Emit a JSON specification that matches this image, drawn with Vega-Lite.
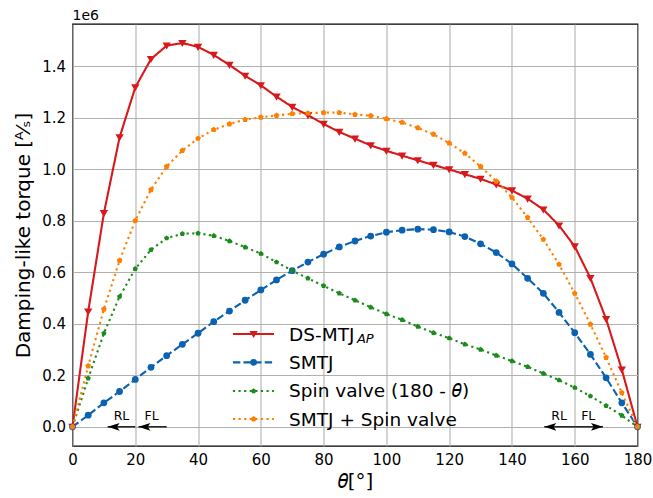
{
  "$schema": "https://vega.github.io/schema/vega-lite/v6.json",
  "width": 565,
  "height": 422,
  "autosize": {"type": "none"},
  "padding": {"left": 72.5, "top": 24, "right": 15.5, "bottom": 52},
  "background": "white",
  "config": {
    "font": "DejaVu Sans",
    "view": {"stroke": "#000", "strokeWidth": 1.3},
    "axis": {
      "grid": true, "gridColor": "#b0b0b0", "gridWidth": 1.1,
      "ticks": false, "tickSize": 0, "domain": false, "labelFlush": false,
      "labelFont": "DejaVu Sans", "labelFontSize": 15, "labelColor": "#000",
      "titleFont": "DejaVu Sans", "titleFontSize": 20, "titleFontWeight": "normal", "titleColor": "#000"
    },
    "axisX": {"labelPadding": 6, "titlePadding": 4},
    "axisY": {"labelPadding": 7, "titlePadding": 8}
  },
  "datasets": {
    "curves": [
      {"theta": 0, "value": 0, "series": "DS-MTJ"},
      {"theta": 5, "value": 0.447, "series": "DS-MTJ"},
      {"theta": 10, "value": 0.829, "series": "DS-MTJ"},
      {"theta": 15, "value": 1.123, "series": "DS-MTJ"},
      {"theta": 20, "value": 1.317, "series": "DS-MTJ"},
      {"theta": 25, "value": 1.427, "series": "DS-MTJ"},
      {"theta": 30, "value": 1.479, "series": "DS-MTJ"},
      {"theta": 35, "value": 1.489, "series": "DS-MTJ"},
      {"theta": 40, "value": 1.474, "series": "DS-MTJ"},
      {"theta": 45, "value": 1.443, "series": "DS-MTJ"},
      {"theta": 50, "value": 1.404, "series": "DS-MTJ"},
      {"theta": 55, "value": 1.362, "series": "DS-MTJ"},
      {"theta": 60, "value": 1.325, "series": "DS-MTJ"},
      {"theta": 65, "value": 1.281, "series": "DS-MTJ"},
      {"theta": 70, "value": 1.241, "series": "DS-MTJ"},
      {"theta": 75, "value": 1.209, "series": "DS-MTJ"},
      {"theta": 80, "value": 1.175, "series": "DS-MTJ"},
      {"theta": 85, "value": 1.144, "series": "DS-MTJ"},
      {"theta": 90, "value": 1.118, "series": "DS-MTJ"},
      {"theta": 95, "value": 1.092, "series": "DS-MTJ"},
      {"theta": 100, "value": 1.071, "series": "DS-MTJ"},
      {"theta": 105, "value": 1.052, "series": "DS-MTJ"},
      {"theta": 110, "value": 1.034, "series": "DS-MTJ"},
      {"theta": 115, "value": 1.016, "series": "DS-MTJ"},
      {"theta": 120, "value": 0.999, "series": "DS-MTJ"},
      {"theta": 125, "value": 0.98, "series": "DS-MTJ"},
      {"theta": 130, "value": 0.962, "series": "DS-MTJ"},
      {"theta": 135, "value": 0.94, "series": "DS-MTJ"},
      {"theta": 140, "value": 0.917, "series": "DS-MTJ"},
      {"theta": 145, "value": 0.885, "series": "DS-MTJ"},
      {"theta": 150, "value": 0.843, "series": "DS-MTJ"},
      {"theta": 155, "value": 0.781, "series": "DS-MTJ"},
      {"theta": 160, "value": 0.7, "series": "DS-MTJ"},
      {"theta": 165, "value": 0.577, "series": "DS-MTJ"},
      {"theta": 170, "value": 0.418, "series": "DS-MTJ"},
      {"theta": 175, "value": 0.222, "series": "DS-MTJ"},
      {"theta": 180, "value": 0, "series": "DS-MTJ"},
      {"theta": 0, "value": 0, "series": "SMTJ"},
      {"theta": 5, "value": 0.045, "series": "SMTJ"},
      {"theta": 10, "value": 0.093, "series": "SMTJ"},
      {"theta": 15, "value": 0.137, "series": "SMTJ"},
      {"theta": 20, "value": 0.184, "series": "SMTJ"},
      {"theta": 25, "value": 0.231, "series": "SMTJ"},
      {"theta": 30, "value": 0.276, "series": "SMTJ"},
      {"theta": 35, "value": 0.32, "series": "SMTJ"},
      {"theta": 40, "value": 0.363, "series": "SMTJ"},
      {"theta": 45, "value": 0.408, "series": "SMTJ"},
      {"theta": 50, "value": 0.449, "series": "SMTJ"},
      {"theta": 55, "value": 0.491, "series": "SMTJ"},
      {"theta": 60, "value": 0.531, "series": "SMTJ"},
      {"theta": 65, "value": 0.57, "series": "SMTJ"},
      {"theta": 70, "value": 0.606, "series": "SMTJ"},
      {"theta": 75, "value": 0.639, "series": "SMTJ"},
      {"theta": 80, "value": 0.67, "series": "SMTJ"},
      {"theta": 85, "value": 0.698, "series": "SMTJ"},
      {"theta": 90, "value": 0.721, "series": "SMTJ"},
      {"theta": 95, "value": 0.74, "series": "SMTJ"},
      {"theta": 100, "value": 0.755, "series": "SMTJ"},
      {"theta": 105, "value": 0.763, "series": "SMTJ"},
      {"theta": 110, "value": 0.767, "series": "SMTJ"},
      {"theta": 115, "value": 0.765, "series": "SMTJ"},
      {"theta": 120, "value": 0.756, "series": "SMTJ"},
      {"theta": 125, "value": 0.738, "series": "SMTJ"},
      {"theta": 130, "value": 0.71, "series": "SMTJ"},
      {"theta": 135, "value": 0.676, "series": "SMTJ"},
      {"theta": 140, "value": 0.632, "series": "SMTJ"},
      {"theta": 145, "value": 0.576, "series": "SMTJ"},
      {"theta": 150, "value": 0.518, "series": "SMTJ"},
      {"theta": 155, "value": 0.444, "series": "SMTJ"},
      {"theta": 160, "value": 0.365, "series": "SMTJ"},
      {"theta": 165, "value": 0.281, "series": "SMTJ"},
      {"theta": 170, "value": 0.19, "series": "SMTJ"},
      {"theta": 175, "value": 0.093, "series": "SMTJ"},
      {"theta": 180, "value": 0, "series": "SMTJ"},
      {"theta": 0, "value": 0, "series": "Spin valve"},
      {"theta": 5, "value": 0.188, "series": "Spin valve"},
      {"theta": 10, "value": 0.363, "series": "Spin valve"},
      {"theta": 15, "value": 0.505, "series": "Spin valve"},
      {"theta": 20, "value": 0.613, "series": "Spin valve"},
      {"theta": 25, "value": 0.687, "series": "Spin valve"},
      {"theta": 30, "value": 0.732, "series": "Spin valve"},
      {"theta": 35, "value": 0.749, "series": "Spin valve"},
      {"theta": 40, "value": 0.751, "series": "Spin valve"},
      {"theta": 45, "value": 0.741, "series": "Spin valve"},
      {"theta": 50, "value": 0.721, "series": "Spin valve"},
      {"theta": 55, "value": 0.697, "series": "Spin valve"},
      {"theta": 60, "value": 0.672, "series": "Spin valve"},
      {"theta": 65, "value": 0.639, "series": "Spin valve"},
      {"theta": 70, "value": 0.606, "series": "Spin valve"},
      {"theta": 75, "value": 0.576, "series": "Spin valve"},
      {"theta": 80, "value": 0.547, "series": "Spin valve"},
      {"theta": 85, "value": 0.518, "series": "Spin valve"},
      {"theta": 90, "value": 0.491, "series": "Spin valve"},
      {"theta": 95, "value": 0.464, "series": "Spin valve"},
      {"theta": 100, "value": 0.438, "series": "Spin valve"},
      {"theta": 105, "value": 0.415, "series": "Spin valve"},
      {"theta": 110, "value": 0.389, "series": "Spin valve"},
      {"theta": 115, "value": 0.365, "series": "Spin valve"},
      {"theta": 120, "value": 0.344, "series": "Spin valve"},
      {"theta": 125, "value": 0.32, "series": "Spin valve"},
      {"theta": 130, "value": 0.3, "series": "Spin valve"},
      {"theta": 135, "value": 0.277, "series": "Spin valve"},
      {"theta": 140, "value": 0.255, "series": "Spin valve"},
      {"theta": 145, "value": 0.233, "series": "Spin valve"},
      {"theta": 150, "value": 0.207, "series": "Spin valve"},
      {"theta": 155, "value": 0.181, "series": "Spin valve"},
      {"theta": 160, "value": 0.152, "series": "Spin valve"},
      {"theta": 165, "value": 0.119, "series": "Spin valve"},
      {"theta": 170, "value": 0.082, "series": "Spin valve"},
      {"theta": 175, "value": 0.044, "series": "Spin valve"},
      {"theta": 180, "value": 0, "series": "Spin valve"},
      {"theta": 0, "value": 0, "series": "SMTJ + Spin valve"},
      {"theta": 5, "value": 0.236, "series": "SMTJ + Spin valve"},
      {"theta": 10, "value": 0.456, "series": "SMTJ + Spin valve"},
      {"theta": 15, "value": 0.645, "series": "SMTJ + Spin valve"},
      {"theta": 20, "value": 0.8, "series": "SMTJ + Spin valve"},
      {"theta": 25, "value": 0.92, "series": "SMTJ + Spin valve"},
      {"theta": 30, "value": 1.01, "series": "SMTJ + Spin valve"},
      {"theta": 35, "value": 1.072, "series": "SMTJ + Spin valve"},
      {"theta": 40, "value": 1.119, "series": "SMTJ + Spin valve"},
      {"theta": 45, "value": 1.153, "series": "SMTJ + Spin valve"},
      {"theta": 50, "value": 1.175, "series": "SMTJ + Spin valve"},
      {"theta": 55, "value": 1.192, "series": "SMTJ + Spin valve"},
      {"theta": 60, "value": 1.201, "series": "SMTJ + Spin valve"},
      {"theta": 65, "value": 1.208, "series": "SMTJ + Spin valve"},
      {"theta": 70, "value": 1.215, "series": "SMTJ + Spin valve"},
      {"theta": 75, "value": 1.217, "series": "SMTJ + Spin valve"},
      {"theta": 80, "value": 1.219, "series": "SMTJ + Spin valve"},
      {"theta": 85, "value": 1.219, "series": "SMTJ + Spin valve"},
      {"theta": 90, "value": 1.212, "series": "SMTJ + Spin valve"},
      {"theta": 95, "value": 1.207, "series": "SMTJ + Spin valve"},
      {"theta": 100, "value": 1.195, "series": "SMTJ + Spin valve"},
      {"theta": 105, "value": 1.181, "series": "SMTJ + Spin valve"},
      {"theta": 110, "value": 1.16, "series": "SMTJ + Spin valve"},
      {"theta": 115, "value": 1.135, "series": "SMTJ + Spin valve"},
      {"theta": 120, "value": 1.101, "series": "SMTJ + Spin valve"},
      {"theta": 125, "value": 1.061, "series": "SMTJ + Spin valve"},
      {"theta": 130, "value": 1.01, "series": "SMTJ + Spin valve"},
      {"theta": 135, "value": 0.953, "series": "SMTJ + Spin valve"},
      {"theta": 140, "value": 0.89, "series": "SMTJ + Spin valve"},
      {"theta": 145, "value": 0.812, "series": "SMTJ + Spin valve"},
      {"theta": 150, "value": 0.727, "series": "SMTJ + Spin valve"},
      {"theta": 155, "value": 0.63, "series": "SMTJ + Spin valve"},
      {"theta": 160, "value": 0.518, "series": "SMTJ + Spin valve"},
      {"theta": 165, "value": 0.398, "series": "SMTJ + Spin valve"},
      {"theta": 170, "value": 0.269, "series": "SMTJ + Spin valve"},
      {"theta": 175, "value": 0.132, "series": "SMTJ + Spin valve"},
      {"theta": 180, "value": 0, "series": "SMTJ + Spin valve"}
    ],
    "arrows": [
      {"tail": 20, "head": 11.2, "dir": "left"},
      {"tail": 30, "head": 21, "dir": "left"},
      {"tail": 160, "head": 150.3, "dir": "left"},
      {"tail": 160, "head": 169, "dir": "right"}
    ],
    "arrowLabels": [
      {"label": "RL", "pos": 15.6},
      {"label": "FL", "pos": 25.2},
      {"label": "RL", "pos": 155},
      {"label": "FL", "pos": 164.3}
    ],
    "one": [{}]
  },
  "layer": [
    {
      "data": {"name": "curves"},
      "mark": {"type": "line", "strokeWidth": 2.1},
      "encoding": {
        "x": {"field": "theta", "type": "quantitative",
          "scale": {"domain": [0, 180], "nice": false, "zero": false},
          "axis": {"values": [0, 20, 40, 60, 80, 100, 120, 140, 160, 180], "title": "𝜃[°]"}},
        "y": {"field": "value", "type": "quantitative",
          "scale": {"domain": [-0.0745, 1.563], "nice": false, "zero": false},
          "axis": {"values": [0, 0.2, 0.4, 0.6, 0.8, 1.0, 1.2, 1.4], "format": ".1f", "title": "Damping-like torque [ᴬ⁄ₛ]"}},
        "color": {"field": "series", "type": "nominal", "legend": null,
          "scale": {"domain": ["DS-MTJ", "SMTJ", "Spin valve", "SMTJ + Spin valve"],
                    "range": ["#d7191c", "#0b62b0", "#1b8c1b", "#ff8000"]}},
        "strokeDash": {"field": "series", "type": "nominal", "legend": null,
          "scale": {"domain": ["DS-MTJ", "SMTJ", "Spin valve", "SMTJ + Spin valve"],
                    "range": [[1, 0], [7.4, 3.2], [2.2, 3.4], [2.2, 3.4]]}}
      }
    },
    {
      "data": {"name": "curves"},
      "transform": [{"filter": "datum.series === 'DS-MTJ'"}],
      "mark": {"type": "point", "filled": true, "opacity": 1, "size": 70, "color": "#d7191c", "shape": "M-1,-0.75L1,-0.75L0,0.95Z"},
      "encoding": {"x": {"field": "theta", "type": "quantitative"}, "y": {"field": "value", "type": "quantitative"}}
    },
    {
      "data": {"name": "curves"},
      "transform": [{"filter": "datum.series === 'SMTJ'"}],
      "mark": {"type": "point", "filled": true, "opacity": 1, "size": 46, "color": "#0b62b0", "shape": "circle"},
      "encoding": {"x": {"field": "theta", "type": "quantitative"}, "y": {"field": "value", "type": "quantitative"}}
    },
    {
      "data": {"name": "curves"},
      "transform": [{"filter": "datum.series === 'Spin valve'"}],
      "mark": {"type": "point", "filled": true, "opacity": 1, "size": 30, "color": "#1b8c1b", "shape": "M0,-1L0.951,-0.309L0.588,0.809L-0.588,0.809L-0.951,-0.309Z"},
      "encoding": {"x": {"field": "theta", "type": "quantitative"}, "y": {"field": "value", "type": "quantitative"}}
    },
    {
      "data": {"name": "curves"},
      "transform": [{"filter": "datum.series === 'SMTJ + Spin valve'"}],
      "mark": {"type": "point", "filled": true, "opacity": 1, "size": 36, "color": "#ff8000", "shape": "M0,-1L0.951,-0.309L0.588,0.809L-0.588,0.809L-0.951,-0.309Z"},
      "encoding": {"x": {"field": "theta", "type": "quantitative"}, "y": {"field": "value", "type": "quantitative"}}
    },
    {
      "data": {"name": "one"},
      "mark": {"type": "text", "text": "1e6", "fontSize": 14, "font": "DejaVu Sans", "align": "left", "baseline": "alphabetic", "dy": -4, "color": "#000"},
      "encoding": {"x": {"datum": 0}, "y": {"datum": 1.563}}
    },
    {
      "data": {"name": "one"},
      "mark": {"type": "rule", "color": "#d7191c", "strokeWidth": 2.1},
      "encoding": {"x": {"datum": 51.1}, "x2": {"datum": 64.2}, "y": {"datum": 0.36}}
    },
    {
      "data": {"name": "one"},
      "mark": {"type": "rule", "color": "#0b62b0", "strokeWidth": 2.1, "strokeDash": [7.4, 3.2]},
      "encoding": {"x": {"datum": 51.1}, "x2": {"datum": 64.2}, "y": {"datum": 0.25}}
    },
    {
      "data": {"name": "one"},
      "mark": {"type": "rule", "color": "#1b8c1b", "strokeWidth": 2.1, "strokeDash": [2.2, 3.4]},
      "encoding": {"x": {"datum": 51.1}, "x2": {"datum": 64.2}, "y": {"datum": 0.139}}
    },
    {
      "data": {"name": "one"},
      "mark": {"type": "rule", "color": "#ff8000", "strokeWidth": 2.1, "strokeDash": [2.2, 3.4]},
      "encoding": {"x": {"datum": 51.1}, "x2": {"datum": 64.2}, "y": {"datum": 0.03}}
    },
    {
      "data": {"name": "one"},
      "mark": {"type": "point", "filled": true, "opacity": 1, "size": 70, "color": "#d7191c", "shape": "M-1,-0.75L1,-0.75L0,0.95Z"},
      "encoding": {"x": {"datum": 57.7}, "y": {"datum": 0.36}}
    },
    {
      "data": {"name": "one"},
      "mark": {"type": "point", "filled": true, "opacity": 1, "size": 46, "color": "#0b62b0", "shape": "circle"},
      "encoding": {"x": {"datum": 57.7}, "y": {"datum": 0.25}}
    },
    {
      "data": {"name": "one"},
      "mark": {"type": "point", "filled": true, "opacity": 1, "size": 30, "color": "#1b8c1b", "shape": "M0,-1L0.951,-0.309L0.588,0.809L-0.588,0.809L-0.951,-0.309Z"},
      "encoding": {"x": {"datum": 57.7}, "y": {"datum": 0.139}}
    },
    {
      "data": {"name": "one"},
      "mark": {"type": "point", "filled": true, "opacity": 1, "size": 36, "color": "#ff8000", "shape": "M0,-1L0.951,-0.309L0.588,0.809L-0.588,0.809L-0.951,-0.309Z"},
      "encoding": {"x": {"datum": 57.7}, "y": {"datum": 0.03}}
    },
    {
      "data": {"name": "one"},
      "mark": {"type": "text", "text": "DS-MTJ", "fontSize": 18.5, "font": "DejaVu Sans", "align": "left", "baseline": "middle", "color": "#000"},
      "encoding": {"x": {"datum": 69}, "y": {"datum": 0.358}}
    },
    {
      "data": {"name": "one"},
      "mark": {"type": "text", "text": "AP", "fontStyle": "italic", "fontSize": 13, "font": "DejaVu Sans", "align": "left", "baseline": "alphabetic", "color": "#000"},
      "encoding": {"x": {"datum": 90.6}, "y": {"datum": 0.326}}
    },
    {
      "data": {"name": "one"},
      "mark": {"type": "text", "text": "SMTJ", "fontSize": 18.5, "font": "DejaVu Sans", "align": "left", "baseline": "middle", "color": "#000"},
      "encoding": {"x": {"datum": 69}, "y": {"datum": 0.248}}
    },
    {
      "data": {"name": "one"},
      "mark": {"type": "text", "text": "Spin valve (180 - 𝜃)", "fontSize": 18.5, "font": "DejaVu Sans", "align": "left", "baseline": "middle", "color": "#000"},
      "encoding": {"x": {"datum": 69}, "y": {"datum": 0.137}}
    },
    {
      "data": {"name": "one"},
      "mark": {"type": "text", "text": "SMTJ + Spin valve", "fontSize": 18.5, "font": "DejaVu Sans", "align": "left", "baseline": "middle", "color": "#000"},
      "encoding": {"x": {"datum": 69}, "y": {"datum": 0.028}}
    },
    {
      "data": {"name": "arrows"},
      "mark": {"type": "rule", "color": "#000", "strokeWidth": 1.3},
      "encoding": {"x": {"field": "tail", "type": "quantitative"}, "x2": {"field": "head"}, "y": {"datum": 0}}
    },
    {
      "data": {"name": "arrows"},
      "transform": [{"filter": "datum.dir === 'left'"}],
      "mark": {"type": "point", "filled": true, "opacity": 1, "color": "#000", "size": 144, "shape": "M0,0L2,-0.65L1.55,0L2,0.65Z"},
      "encoding": {"x": {"field": "head", "type": "quantitative"}, "y": {"datum": 0}}
    },
    {
      "data": {"name": "arrows"},
      "transform": [{"filter": "datum.dir === 'right'"}],
      "mark": {"type": "point", "filled": true, "opacity": 1, "color": "#000", "size": 144, "shape": "M0,0L-2,-0.65L-1.55,0L-2,0.65Z"},
      "encoding": {"x": {"field": "head", "type": "quantitative"}, "y": {"datum": 0}}
    },
    {
      "data": {"name": "arrowLabels"},
      "mark": {"type": "text", "fontSize": 12.5, "font": "DejaVu Sans", "align": "center", "baseline": "middle", "color": "#000"},
      "encoding": {"x": {"field": "pos", "type": "quantitative"}, "y": {"datum": 0.042}, "text": {"field": "label"}}
    }
  ]
}
